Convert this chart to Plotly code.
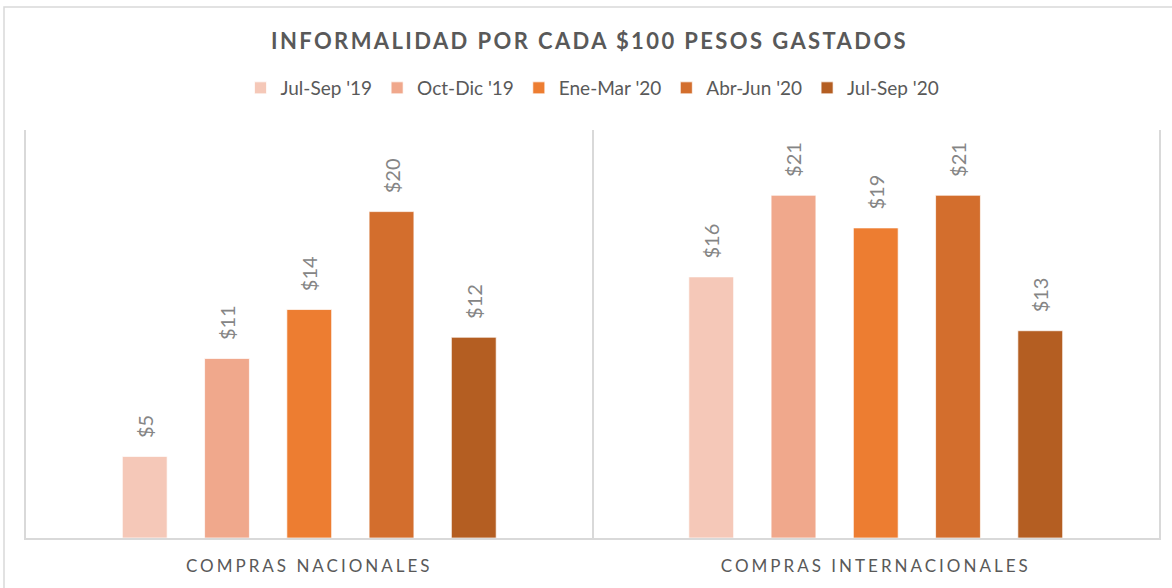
import plotly.graph_objects as go

categories = ["COMPRAS NACIONALES", "COMPRAS INTERNACIONALES"]
series_names = ["Jul-Sep '19", "Oct-Dic '19", "Ene-Mar '20", "Abr-Jun '20", "Jul-Sep '20"]
jul_sep_19 = [5.0, 16.0]
oct_dic_19 = [11.0, 21.0]
ene_mar_20 = [14.0, 19.0]
abr_jun_20 = [20.0, 21.0]
jul_sep_20 = [12.3, 12.7]
series_values = [jul_sep_19, oct_dic_19, ene_mar_20, abr_jun_20, jul_sep_20]
colors = ["#F5C8B8", "#F0A88C", "#ED7D31", "#D36E2D", "#B45E22"]

FONT = "Lato"
fig = go.Figure()
for name, vals, col in zip(series_names, series_values, colors):
    fig.add_trace(go.Bar(
        x=categories, y=vals, name=name,
        marker=dict(color=col, line=dict(color="rgba(255,255,255,0.7)", width=1)),
        texttemplate="\u00a0\u00a0\u00a0$%{y:.0f}", textposition="outside", textangle=-90,
        constraintext="none",
        textfont=dict(family=FONT, size=20, color="#858585"),
        cliponaxis=False,
    ))

fig.update_layout(
    width=1172, height=588,
    margin=dict(l=26, r=13, t=130, b=50),
    paper_bgcolor="white", plot_bgcolor="white",
    barmode="group", bargap=0.274, bargroupgap=0.455,
    title=dict(text="INFORMALIDAD POR CADA $100 PESOS GASTADOS", x=0.503, xanchor="center",
               y=1 - 41 / 588, yanchor="middle",
               font=dict(family=FONT, size=22, color="#595959", weight="bold")),
    legend=dict(orientation="h", x=0.5, xanchor="center", y=(538 - 88) / 408, yanchor="middle",
                font=dict(family=FONT, size=19, color="#595959"), itemwidth=30,
                traceorder="normal"),
    showlegend=True,
)
fig.update_xaxes(showline=True, linecolor="#d9d9d9", linewidth=1.5,
                 tickson="boundaries", showgrid=True, gridcolor="#d9d9d9", gridwidth=1.5,
                 ticks="", ticklabelstandoff=12,
                 tickfont=dict(family=FONT, size=17, color="#595959"))
fig.update_yaxes(range=[0, 25], showgrid=False, showticklabels=False, zeroline=False,
                 showline=True, mirror=True, linecolor="#d9d9d9", linewidth=1.5, ticks="")
fig.add_shape(type="rect", xref="paper", yref="paper",
              x0=(4 - 26) / 1133, x1=(1180 - 26) / 1133,
              y0=(538 - 600) / 408, y1=(538 - 7) / 408,
              line=dict(color="#d9d9d9", width=1.5), fillcolor="rgba(0,0,0,0)", layer="below")

post = ("var s=document.createElement('style');"
        "s.textContent='body{margin:0;overflow:hidden}.gtitle{letter-spacing:2.4px}.xtick text{letter-spacing:3px}';"
        "document.head.appendChild(s);")
fig.write_html("out.html", post_script=post, config={"displayModeBar": False})
